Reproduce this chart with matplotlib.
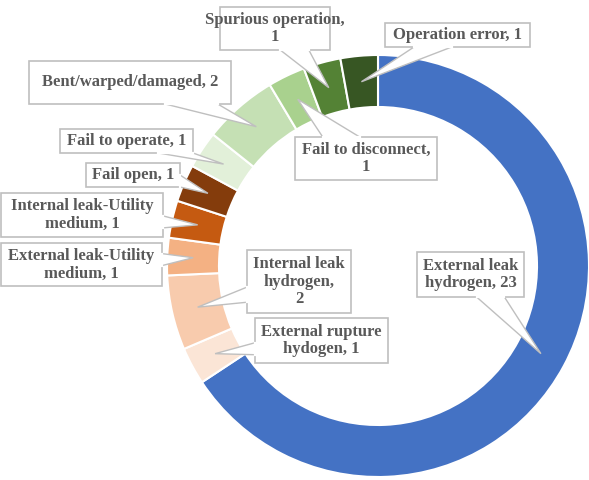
import numpy as np
import matplotlib
matplotlib.use("Agg")
import matplotlib.pyplot as plt
from matplotlib.patches import Rectangle, Polygon

# Data (clockwise from 12 o'clock)
labels = [
    "External leak\nhydrogen, 23",
    "External rupture\nhydogen, 1",
    "Internal leak\nhydrogen,\n2",
    "External leak-Utility\nmedium, 1",
    "Internal leak-Utility\nmedium, 1",
    "Fail open, 1",
    "Fail to operate, 1",
    "Bent/warped/damaged, 2",
    "Fail to disconnect,\n1",
    "Spurious operation,\n1",
    "Operation error, 1",
]
counts = [23, 1, 2, 1, 1, 1, 1, 2, 1, 1, 1]
colors = ["#4472C4", "#FBE5D6", "#F8CBAD", "#F4B183", "#C55A11", "#843C0C",
          "#E2F0D9", "#C5E0B4", "#A9D18E", "#548235", "#375623"]

# label boxes in pixel coords (left, top, right, bottom) - layout only
boxes = [
    (417, 252, 524, 297),
    (255, 318, 388, 363),
    (247, 250, 351, 313),
    (1, 243, 162, 286),
    (1, 193, 163, 237),
    (86, 163, 180, 187),
    (60, 129, 193, 153),
    (29, 61, 231, 104),
    (295, 137, 437, 180),
    (220, 7, 330, 50),
    (385, 23, 530, 47),
]

W, H = 589, 480
cx, cy, R, ring = 378, 266, 211, 52

fig = plt.figure(figsize=(W / 100, H / 100), dpi=100)
ax = fig.add_axes([0, 0, 1, 1])
wedges, _ = ax.pie(counts, colors=colors, startangle=90, counterclock=False,
                   radius=R, center=(cx, H - cy),
                   wedgeprops=dict(width=ring, edgecolor="white", linewidth=1.5))
ax.set_xlim(0, W)
ax.set_ylim(0, H)
ax.set_aspect("equal")
ax.axis("off")

border = "#BFBFBF"


def edge_base(l, t, r, b, tip):
    # point where the ray from box centre to tip leaves the box, and the base
    # of the callout pointer laid along that edge
    x0, x1, y0, y1 = l, r, H - b, H - t
    c = np.array([(x0 + x1) / 2, (y0 + y1) / 2])
    d = tip - c
    sx = (x1 - x0) / 2 / abs(d[0]) if d[0] != 0 else np.inf
    sy = (y1 - y0) / 2 / abs(d[1]) if d[1] != 0 else np.inf
    if sx < sy:
        p = c + d * sx
        hw = max(6, 0.12 * (y1 - y0))
        ya = np.clip(p[1] - hw, y0, y1 - 2 * hw)
        return [(p[0], ya), (p[0], ya + 2 * hw)]
    p = c + d * sy
    hw = max(7, 0.13 * (x1 - x0))
    xa = np.clip(p[0] - hw, x0, x1 - 2 * hw)
    return [(xa, p[1]), (xa + 2 * hw, p[1])]


for w, lab, (l, t, r, b) in zip(wedges, labels, boxes):
    ang = np.deg2rad((w.theta1 + w.theta2) / 2)
    rm = R - ring / 2
    tip = np.array([cx + rm * np.cos(ang), H - cy + rm * np.sin(ang)])
    base = edge_base(l, t, r, b, tip)
    ax.add_patch(Rectangle((l, H - b), r - l, b - t, facecolor="white",
                           edgecolor=border, linewidth=1.2, zorder=3))
    ax.add_patch(Polygon(base + [tuple(tip)], closed=True, facecolor="white",
                         edgecolor=border, linewidth=1, zorder=4))
    # hide the box border under the pointer base
    ax.plot([base[0][0], base[1][0]], [base[0][1], base[1][1]], color="white",
            linewidth=1.6, zorder=5)
    ax.text((l + r) / 2, H - (t + b) / 2, lab, ha="center", va="center",
            fontsize=12, fontweight="bold", family="Liberation Serif",
            color="#595959", linespacing=1.15, zorder=6)

fig.savefig("out.png", dpi=100)
